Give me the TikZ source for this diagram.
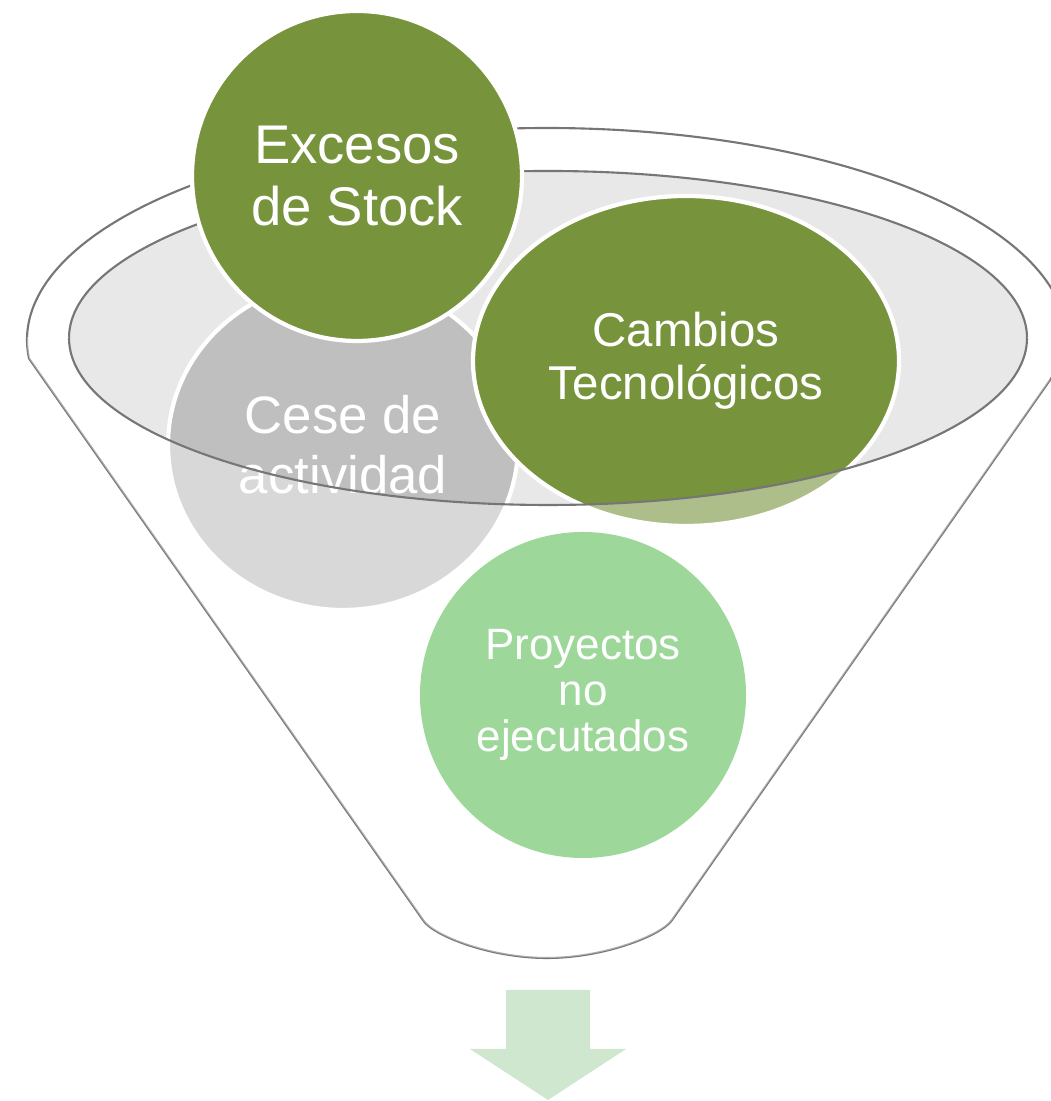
\documentclass[tikz,border=0pt]{standalone}
\usepackage{fontspec}
\setmainfont{Liberation Sans}
\usetikzlibrary{shapes.geometric}

\definecolor{oliveGreen}{HTML}{77933C}
\definecolor{ceseGray}{HTML}{BFBFBF}
\definecolor{glassGray}{HTML}{E8E8E8}
\definecolor{paleGreen}{HTML}{9DD79A}
\definecolor{arrowGreen}{HTML}{D0E7CF}
\definecolor{rimGray}{HTML}{767676}

\begin{document}
\begin{tikzpicture}
	\tikzstyle{rimStyle}=[draw=rimGray, line width=0.6pt]
	\tikzstyle{bubbleStyle}=[shape=ellipse, inner sep=0pt, draw=white, line width=1.2pt, text=white, align=center]
	\tikzstyle{softStyle}=[shape=circle, inner sep=0pt, fill=paleGreen, text=white, align=center]
	\useasboundingbox (0,0) rectangle (10.5,11.01);
	% funnel back
	\draw[rimStyle, fill=white] (0.29,7.425) arc[start angle=185, end angle=-5, x radius=5.20, y radius=2.12] -- (6.72,1.81) .. controls (6.62,1.66) and (6.05,1.43) .. (5.47,1.43) .. controls (4.89,1.43) and (4.32,1.66) .. (4.23,1.81) -- cycle;
	\fill[glassGray] (5.48,7.63) ellipse [x radius=4.79, y radius=1.67];
	\draw[rimStyle] (10.27,7.63) arc[start angle=0, end angle=180, x radius=4.79, y radius=1.67];
	% bubbles
	\node[bubbleStyle, fill=ceseGray, minimum width=3.50cm, minimum height=3.30cm, font=\fontsize{15}{17.1}\selectfont] (cese) at (3.43,6.56) {Cese de\\actividad};
	\node[bubbleStyle, fill=oliveGreen, minimum width=4.26cm, minimum height=3.30cm, font=\fontsize{13.5}{15.1}\selectfont] (cambios) at (6.86,7.40) {Cambios\\Tecnológicos};
	\node[bubbleStyle, fill=oliveGreen, minimum width=3.30cm, minimum height=3.30cm, font=\fontsize{15.5}{17.6}\selectfont] (excesos) at (3.57,9.25) {Excesos\\de Stock};
	% funnel front
	\begin{scope}
		\clip (0,0) rectangle (10.5,7.63);
		\fill[white, opacity=0.4, even odd rule] (0.29,7.425) arc[start angle=185, end angle=-5, x radius=5.20, y radius=2.12] -- (6.72,1.81) .. controls (6.62,1.66) and (6.05,1.43) .. (5.47,1.43) .. controls (4.89,1.43) and (4.32,1.66) .. (4.23,1.81) -- cycle (5.48,7.63) ellipse [x radius=4.79, y radius=1.67];
	\end{scope}
	\draw[rimStyle] (0.69,7.63) arc[start angle=180, end angle=360, x radius=4.79, y radius=1.67];
	\node[softStyle, minimum size=3.26cm, font=\fontsize{12.5}{13.2}\selectfont] (proyectos) at (5.83,4.06) {Proyectos\\no\\ejecutados};
	% arrow
	\fill[arrowGreen] (5.06,1.11) -- (5.90,1.11) -- (5.90,0.52) -- (6.26,0.52) -- (5.48,0.01) -- (4.70,0.52) -- (5.06,0.52) -- cycle;
\end{tikzpicture}
\end{document}
